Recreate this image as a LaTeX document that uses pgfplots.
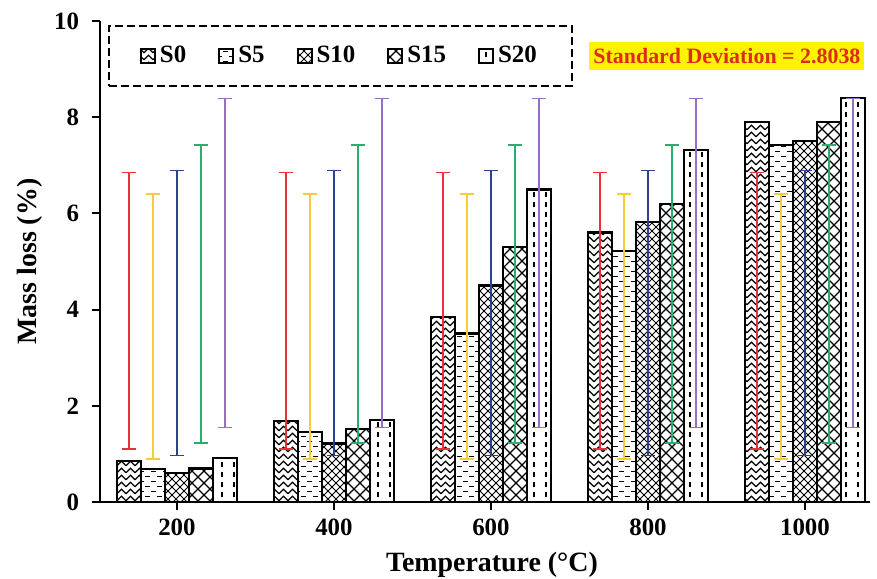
\documentclass[border=0pt]{standalone}
\usepackage{fontspec}
\setmainfont{Liberation Serif}
\usepackage{pgfplots}
\pgfplotsset{compat=1.18}
\usetikzlibrary{patterns}

\definecolor{errred}{RGB}{230,50,60}
\definecolor{erryellow}{RGB}{245,205,60}
\definecolor{errblue}{RGB}{45,65,140}
\definecolor{errgreen}{RGB}{40,175,110}
\definecolor{errpurple}{RGB}{150,110,195}
\definecolor{sdred}{RGB}{220,45,25}

\pgfdeclarepatternformonly{zigzag}{\pgfqpoint{-1bp}{-1bp}}{\pgfqpoint{5.5bp}{4.5bp}}{\pgfqpoint{4.5bp}{3.5bp}}{%
  \pgfsetlinewidth{0.6bp}%
  \pgfpathmoveto{\pgfqpoint{0bp}{0.6bp}}%
  \pgfpathlineto{\pgfqpoint{2.25bp}{2.9bp}}%
  \pgfpathlineto{\pgfqpoint{4.5bp}{0.6bp}}%
  \pgfusepath{stroke}}
\pgfdeclarepatternformonly{hdash}{\pgfqpoint{-1bp}{-1bp}}{\pgfqpoint{7bp}{6bp}}{\pgfqpoint{6bp}{5bp}}{%
  \pgfsetlinewidth{0.8bp}%
  \pgfpathmoveto{\pgfqpoint{0.5bp}{1.2bp}}\pgfpathlineto{\pgfqpoint{3bp}{1.2bp}}%
  \pgfpathmoveto{\pgfqpoint{3.5bp}{3.7bp}}\pgfpathlineto{\pgfqpoint{6bp}{3.7bp}}%
  \pgfusepath{stroke}}
\pgfdeclarepatternformonly{crossS}{\pgfqpoint{-1bp}{-1bp}}{\pgfqpoint{5bp}{5bp}}{\pgfqpoint{4bp}{4bp}}{%
  \pgfsetlinewidth{0.5bp}%
  \pgfpathmoveto{\pgfqpoint{0bp}{0bp}}\pgfpathlineto{\pgfqpoint{4bp}{4bp}}%
  \pgfpathmoveto{\pgfqpoint{0bp}{4bp}}\pgfpathlineto{\pgfqpoint{4bp}{0bp}}%
  \pgfusepath{stroke}}
\pgfdeclarepatternformonly{crossL}{\pgfqpoint{-1bp}{-1bp}}{\pgfqpoint{7bp}{7bp}}{\pgfqpoint{6bp}{6bp}}{%
  \pgfsetlinewidth{0.6bp}%
  \pgfpathmoveto{\pgfqpoint{0bp}{0bp}}\pgfpathlineto{\pgfqpoint{6bp}{6bp}}%
  \pgfpathmoveto{\pgfqpoint{0bp}{6bp}}\pgfpathlineto{\pgfqpoint{6bp}{0bp}}%
  \pgfusepath{stroke}}
\pgfdeclarepatternformonly{vdash}{\pgfqpoint{-1bp}{-1bp}}{\pgfqpoint{7bp}{6bp}}{\pgfqpoint{6bp}{5bp}}{%
  \pgfsetlinewidth{0.7bp}%
  \pgfpathmoveto{\pgfqpoint{3bp}{0.8bp}}\pgfpathlineto{\pgfqpoint{3bp}{3.3bp}}%
  \pgfusepath{stroke}}

\pgfplotsset{
  mybar/.style={ybar, bar width=0.153, draw=black, line width=1.2bp, fill=white,
    postaction={pattern=#1},
    legend image code/.code={\draw[##1, solid, line width=1bp] (0bp,-3.5bp) rectangle (7bp,3.5bp);}},
  myerr/.style={draw=none, mark=none, forget plot,
    error bars/.cd, y dir=both, y explicit, error mark=-,
    error bar style={draw=#1, line width=0.8bp, solid},
    error mark options={draw=#1, line width=0.8bp, mark size=3.5bp, rotate=90}},
}

\begin{document}
\begin{tikzpicture}
\begin{axis}[name=ax, scale only axis, width=385bp, height=240.5bp,
  xmin=-0.49, xmax=4.414, ymin=0, ymax=10,
  axis x line*=bottom, axis y line*=left,
  axis line style={line width=1bp, -},
  xtick={0,1,2,3,4}, xticklabels={200,400,600,800,1000},
  ytick={0,2,4,6,8,10},
  tick align=outside, major tick length=4bp,
  tick style={line width=1bp, black},
  /pgf/number format/assume math mode=true,
  ticklabel style={font=\bfseries\fontsize{12.5}{14}\selectfont},
  yticklabel style={xshift=-3bp},
  xticklabel style={yshift=-1bp},
  xlabel={Temperature (°C)}, ylabel={Mass loss (\%)},
  label style={font=\bfseries\fontsize{14}{16}\selectfont},
  xlabel style={at={(axis description cs:0.509,-0.131)}, anchor=center},
  ylabel style={at={(axis description cs:-0.091,0.5)}, anchor=center},
  legend columns=5,
  legend style={at={(0.0104,0.992)}, anchor=north west, draw=black, line width=1bp,
    dash pattern=on 4bp off 2bp, font=\bfseries\fontsize{12.5}{14}\selectfont,
    inner xsep=15.5bp, inner ysep=8.2bp,
    /tikz/every even column/.append style={column sep=14bp}},
  clip=false,
]
\addplot[mybar=zigzag, bar shift=-0.306] coordinates {(0,0.85) (1,1.68) (2,3.85) (3,5.60) (4,7.90)};
\addlegendentry{S0}
\addplot[mybar=hdash, bar shift=-0.153] coordinates {(0,0.68) (1,1.45) (2,3.50) (3,5.22) (4,7.42)};
\addlegendentry{S5}
\addplot[mybar=crossS, bar shift=0] coordinates {(0,0.60) (1,1.22) (2,4.50) (3,5.82) (4,7.50)};
\addlegendentry{S10}
\addplot[mybar=crossL, bar shift=0.153] coordinates {(0,0.70) (1,1.52) (2,5.30) (3,6.20) (4,7.90)};
\addlegendentry{S15}
\addplot[mybar=vdash, bar shift=0.306] coordinates {(0,0.92) (1,1.70) (2,6.50) (3,7.32) (4,8.40)};
\addlegendentry{S20}

\addplot[myerr=errred] coordinates {(-0.306,3.976) +- (0,2.876) (0.694,3.976) +- (0,2.876) (1.694,3.976) +- (0,2.876) (2.694,3.976) +- (0,2.876) (3.694,3.976) +- (0,2.876)};
\addplot[myerr=erryellow] coordinates {(-0.153,3.654) +- (0,2.755) (0.847,3.654) +- (0,2.755) (1.847,3.654) +- (0,2.755) (2.847,3.654) +- (0,2.755) (3.847,3.654) +- (0,2.755)};
\addplot[myerr=errblue] coordinates {(0,3.928) +- (0,2.961) (1,3.928) +- (0,2.961) (2,3.928) +- (0,2.961) (3,3.928) +- (0,2.961) (4,3.928) +- (0,2.961)};
\addplot[myerr=errgreen] coordinates {(0.153,4.324) +- (0,3.092) (1.153,4.324) +- (0,3.092) (2.153,4.324) +- (0,3.092) (3.153,4.324) +- (0,3.092) (4.153,4.324) +- (0,3.092)};
\addplot[myerr=errpurple] coordinates {(0.306,4.968) +- (0,3.418) (1.306,4.968) +- (0,3.418) (2.306,4.968) +- (0,3.418) (3.306,4.968) +- (0,3.418) (4.306,4.968) +- (0,3.418)};

\node[fill=yellow, text=sdred, font=\bfseries\fontsize{11}{13}\selectfont, inner xsep=2bp, inner ysep=3bp] at (axis cs:3.503,9.27) {Standard Deviation = 2.8038};
\end{axis}
\pgfresetboundingbox
\path[use as bounding box] ([shift={(-50bp,-38.5bp)}]ax.south west) rectangle ([shift={(3.5bp,10.5bp)}]ax.north east);
\end{tikzpicture}
\end{document}
